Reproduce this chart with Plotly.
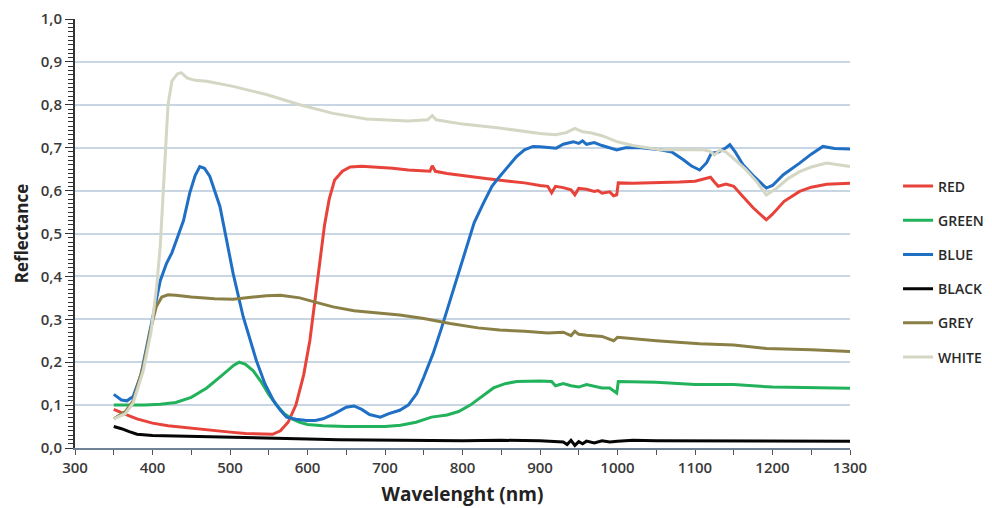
import plotly.graph_objects as go

# ---------------- data ----------------
red_x = [350, 360, 370, 380, 400, 420, 450, 480, 500, 520, 540, 555, 565, 575, 585, 595,
         603, 610, 616, 622, 628, 635, 645, 655, 670, 690, 710, 730, 750, 758, 761, 765,
         780, 800, 830, 860, 880, 900, 910, 915, 920, 930, 940, 945, 950, 960, 970, 975,
         980, 990, 995, 999, 1001, 1020, 1050, 1080, 1100, 1115, 1120, 1125, 1130, 1140,
         1150, 1160, 1175, 1192, 1200, 1215, 1235, 1250, 1270, 1300]
red_y = [0.090, 0.082, 0.075, 0.068, 0.058, 0.052, 0.046, 0.040, 0.037, 0.034, 0.032, 0.032,
         0.040, 0.060, 0.100, 0.170, 0.250, 0.350, 0.440, 0.520, 0.580, 0.625, 0.645, 0.655,
         0.657, 0.655, 0.652, 0.648, 0.645, 0.645, 0.658, 0.645, 0.640, 0.635, 0.628, 0.622,
         0.618, 0.612, 0.610, 0.595, 0.610, 0.607, 0.602, 0.590, 0.605, 0.603, 0.598, 0.600,
         0.594, 0.597, 0.588, 0.590, 0.618, 0.617, 0.618, 0.620, 0.622, 0.628, 0.631, 0.620,
         0.610, 0.615, 0.610, 0.590, 0.560, 0.532, 0.545, 0.575, 0.598, 0.608, 0.615, 0.617]

green_x = [350, 370, 390, 410, 430, 450, 470, 490, 505, 512, 520, 530, 540, 550, 560, 570,
           580, 590, 600, 620, 650, 700, 720, 740, 760, 780, 795, 810, 825, 840, 855, 870,
           900, 915, 920, 930, 940, 950, 960, 970, 980, 990, 995, 999, 1001, 1050, 1100,
           1150, 1200, 1250, 1300]
green_y = [0.100, 0.100, 0.100, 0.102, 0.106, 0.118, 0.140, 0.170, 0.193, 0.200, 0.195, 0.180,
           0.155, 0.125, 0.100, 0.080, 0.068, 0.060, 0.055, 0.052, 0.050, 0.050, 0.053, 0.060,
           0.072, 0.077, 0.085, 0.100, 0.120, 0.140, 0.150, 0.155, 0.156, 0.155, 0.145, 0.150,
           0.145, 0.142, 0.148, 0.144, 0.140, 0.140, 0.133, 0.128, 0.155, 0.153, 0.148, 0.148,
           0.142, 0.140, 0.139]

blue_x = [350, 360, 367, 375, 385, 395, 402, 410, 418, 425, 431, 440, 448, 455, 461, 467,
          474, 480, 487, 495, 504, 517, 534, 545, 556, 565, 573, 585, 599, 610, 620, 635,
          650, 660, 670, 680, 694, 705, 719, 730, 741, 750, 762, 773, 784, 795, 805, 815,
          827, 838, 848, 860, 870, 880, 891, 900, 910, 921, 930, 943, 950, 955, 960, 970,
          980, 990, 999, 1010, 1030, 1055, 1070, 1085, 1095, 1106, 1115, 1121, 1130, 1140,
          1145, 1152, 1162, 1175, 1192, 1200, 1214, 1235, 1250, 1265, 1280, 1300]
blue_y = [0.125, 0.112, 0.110, 0.120, 0.170, 0.260, 0.320, 0.390, 0.430, 0.455, 0.485, 0.530,
          0.594, 0.635, 0.656, 0.652, 0.633, 0.600, 0.563, 0.490, 0.407, 0.306, 0.204, 0.150,
          0.111, 0.088, 0.072, 0.067, 0.064, 0.064, 0.068, 0.080, 0.095, 0.098, 0.090, 0.078,
          0.072, 0.080, 0.088, 0.100, 0.127, 0.165, 0.220, 0.280, 0.345, 0.410, 0.469, 0.525,
          0.571, 0.610, 0.633, 0.660, 0.680, 0.695, 0.703, 0.702, 0.700, 0.699, 0.708, 0.714,
          0.710, 0.716, 0.708, 0.712, 0.705, 0.700, 0.695, 0.700, 0.700, 0.695, 0.690, 0.672,
          0.658, 0.648, 0.665, 0.687, 0.690, 0.700, 0.707, 0.690, 0.660, 0.635, 0.606, 0.612,
          0.637, 0.664, 0.685, 0.703, 0.698, 0.697]

black_x = [350, 360, 370, 380, 400, 430, 470, 520, 560, 600, 640, 700, 800, 850, 900, 930,
           935, 940, 945, 950, 955, 960, 970, 980, 990, 1000, 1020, 1050, 1100, 1150, 1200, 1300]
black_y = [0.050, 0.045, 0.038, 0.032, 0.029, 0.028, 0.026, 0.024, 0.023, 0.021, 0.019, 0.018,
           0.017, 0.018, 0.017, 0.014, 0.008, 0.018, 0.006, 0.015, 0.010, 0.016, 0.012, 0.017,
           0.014, 0.016, 0.018, 0.017, 0.017, 0.016, 0.016, 0.016]

grey_x = [350, 365, 375, 388, 398, 405, 412, 420, 430, 450, 480, 504, 530, 547, 565, 590,
          610, 633, 660, 690, 719, 750, 784, 820, 848, 880, 910, 930, 940, 945, 950, 960,
          980, 995, 1000, 1050, 1106, 1150, 1192, 1250, 1300]
grey_y = [0.068, 0.085, 0.110, 0.190, 0.280, 0.330, 0.352, 0.357, 0.356, 0.352, 0.348, 0.347,
          0.352, 0.355, 0.356, 0.350, 0.340, 0.329, 0.320, 0.315, 0.310, 0.302, 0.290, 0.280,
          0.275, 0.272, 0.268, 0.270, 0.262, 0.272, 0.265, 0.263, 0.260, 0.250, 0.258, 0.250,
          0.243, 0.240, 0.232, 0.229, 0.225]

white_x = [350, 365, 375, 388, 398, 405, 410, 415, 420, 425, 432, 437, 445, 455, 470, 504,
           547, 590, 633, 676, 706, 730, 755, 761, 766, 800, 848, 880, 900, 920, 934, 945,
           955, 965, 980, 999, 1020, 1055, 1090, 1110, 1119, 1125, 1132, 1140, 1149, 1165,
           1180, 1192, 1205, 1220, 1235, 1250, 1270, 1285, 1300]
white_y = [0.068, 0.080, 0.105, 0.180, 0.270, 0.370, 0.470, 0.630, 0.800, 0.855, 0.872, 0.875,
           0.862, 0.857, 0.855, 0.843, 0.824, 0.800, 0.780, 0.767, 0.764, 0.762, 0.765, 0.775,
           0.765, 0.755, 0.746, 0.738, 0.733, 0.730, 0.735, 0.745, 0.737, 0.735, 0.728, 0.714,
           0.705, 0.695, 0.695, 0.695, 0.692, 0.683, 0.695, 0.690, 0.676, 0.650, 0.620, 0.590,
           0.605, 0.628, 0.644, 0.655, 0.664, 0.660, 0.656]

series_names = ["RED", "GREEN", "BLUE", "BLACK", "GREY", "WHITE"]
y_tick_vals = [0.0, 0.1, 0.2, 0.3, 0.4, 0.5, 0.6, 0.7, 0.8, 0.9, 1.0]
y_tick_text = ["0,0", "0,1", "0,2", "0,3", "0,4", "0,5", "0,6", "0,7", "0,8", "0,9", "1,0"]
x_tick_vals = [300, 400, 500, 600, 700, 800, 900, 1000, 1100, 1200, 1300]

# ---------------- figure ----------------
colors = ["#e8433a", "#22b25c", "#1f6fc5", "#050505", "#8a7f45", "#d4d7c4"]
xs = [red_x, green_x, blue_x, black_x, grey_x, white_x]
ys = [red_y, green_y, blue_y, black_y, grey_y, white_y]

fig = go.Figure()
for name, c, x, y in zip(series_names, colors, xs, ys):
    fig.add_trace(go.Scatter(x=x, y=y, mode="lines", name=name, legendgroup=name,
                             line=dict(color=c, width=3)))

font_family = "Open Sans, Noto Sans, sans-serif"
# the page body adds an 8px margin, so the figure is 984x500 and offsets are reduced by 8
fig.update_layout(
    width=984, height=500,
    margin=dict(l=67, r=142, t=11, b=60, autoexpand=False),
    paper_bgcolor="white", plot_bgcolor="white",
    font=dict(family=font_family, color="#3a3a3a", size=13),
    showlegend=True,
    legend=dict(x=1.062, y=0.647, xanchor="left", yanchor="top",
                font=dict(size=14, color="#2a2a2a", family=font_family, weight=600),
                tracegroupgap=13, bgcolor="rgba(0,0,0,0)", itemwidth=30),
)
fig.update_xaxes(
    range=[300, 1300], tickvals=x_tick_vals, showgrid=False, zeroline=False,
    automargin=False,
    showline=True, linecolor="#6f8296", linewidth=1.5,
    ticks="outside", ticklen=5, tickcolor="#555", tickwidth=1,
    minor=dict(dtick=50, ticks="outside", ticklen=5, tickcolor="#555"),
    tickfont=dict(size=15, color="#3a3a3a", weight=600),
    title=dict(text="<b>Wavelenght (nm)</b>", font=dict(size=19, color="#222"), standoff=12),
)
fig.update_yaxes(
    range=[0, 1], tickvals=y_tick_vals, ticktext=y_tick_text,
    automargin=False,
    showgrid=True, gridcolor="#c8d5e2", gridwidth=1.5, zeroline=False,
    showline=True, linecolor="#333", linewidth=2,
    ticks="outside", ticklen=8, tickcolor="#333", tickwidth=1,
    minor=dict(dtick=0.01, ticks="outside", ticklen=5, tickcolor="#333", showgrid=False),
    tickfont=dict(size=15, color="#3a3a3a", weight=600),
    title=dict(text="<b>Reflectance</b>", font=dict(size=17, color="#222"), standoff=8),
)

fig.write_html("out.html")
